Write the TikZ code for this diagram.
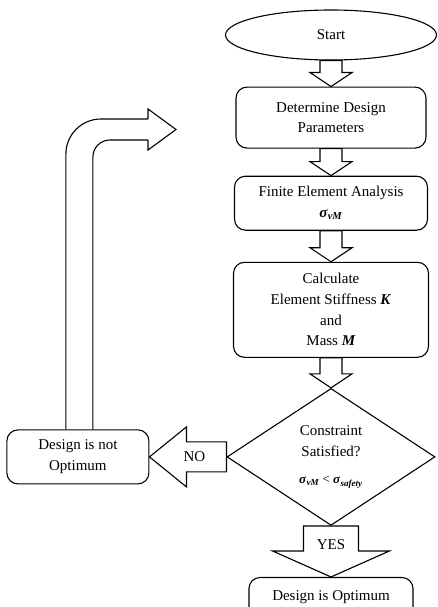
\documentclass[tikz,border=0pt]{standalone}
\usepackage{fontspec}
\setmainfont{Liberation Serif}
\usetikzlibrary{calc,positioning,shapes.geometric}

\newcommand{\sig}[1]{\textbf{\textit{σ}}\textsubscript{\textbf{\textit{#1}}}}

\begin{document}
\begin{tikzpicture}[x=1pt,y=1pt,line width=1.1pt,
    every node/.style={font=\fontsize{15}{20.7}\selectfont},
    termnode/.style={draw,ellipse,minimum width=211pt,minimum height=50pt,inner sep=0pt},
    procbox/.style={draw,rounded corners=11pt,align=center,inner sep=4pt},
    decision/.style={draw,diamond,aspect=1.52,minimum width=208pt,minimum height=137pt,inner sep=0pt,align=center},
    blockarrow/.style={draw,line join=miter}]

                \useasboundingbox (0,0) rectangle (437,-607);

                \node[termnode] (start) at (331,-35) {Start};

                \node[procbox,minimum width=190pt,minimum height=61pt] (det) [below=26pt of start] {Determine Design\\Parameters};

                \node[procbox,minimum width=193pt,minimum height=54pt] (fea) [below=27pt of det] {Finite Element Analysis\\\sig{vM}};

                \node[procbox,minimum width=195pt,minimum height=95pt] (stiff) [below=31pt of fea] {Calculate\\Element Stiffness \textbf{\textit{K}}\\and\\Mass \textbf{\textit{M}}};

                \node[decision] (cond) [below=30pt of stiff] {Constraint\\Satisfied?\\[7pt]{\fontsize{13}{15}\selectfont\sig{vM} < \sig{safety}}};

                \node[procbox,minimum width=142pt,minimum height=54pt] (nopt) [left=77pt of cond] {Design is not\\Optimum};

                \node[procbox,minimum width=164pt,minimum height=40pt] (opt) [below=51pt of cond] {Design is Optimum};

                \coordinate (loopend) at (176,-129.5);

                

                \foreach \from/\to in {start/det, det/fea, fea/stiff, stiff/cond}
                    {
                    \draw[blockarrow] let \p1=(\from.south), \p2=(\to.north) in
                        (\x1-11pt,\y1) -- (\x1-11pt,\y2+14pt) -- (\x1-21pt,\y2+14pt) -- (\x1,\y2)
                        -- (\x1+21pt,\y2+14pt) -- (\x1+11pt,\y2+14pt) -- (\x1+11pt,\y1) -- cycle;
                    }

                

                \draw[blockarrow] let \p1=(cond.south), \p2=(opt.north) in
                    (\x1-27.5pt,\y1) -- (\x1-27.5pt,\y2+26pt) -- (\x1-58.5pt,\y2+26pt) -- (\x1,\y2)
                    -- (\x1+58.5pt,\y2+26pt) -- (\x1+27.5pt,\y2+26pt) -- (\x1+27.5pt,\y1) -- cycle
                    (\x1,\y1-19pt) node (yeslabel) {YES};

                \draw[blockarrow] let \p1=(cond.west), \p2=(nopt.east) in
                    (\x1,\y1+15pt) -- (\x2+37pt,\y1+15pt) -- (\x2+37pt,\y1+30pt) -- (\x2,\y1)
                    -- (\x2+37pt,\y1-30pt) -- (\x2+37pt,\y1-15pt) -- (\x1,\y1-15pt) -- cycle
                    (\x1-32pt,\y1) node (nolabel) {NO};

                

                \draw[rounded corners=35pt] let \p1=(nopt.north), \p2=(loopend) in
                    (\x1-12pt,\y1) |- (\x2-28pt,\y2+10.5pt);

                \draw[rounded corners=17pt] let \p1=(nopt.north), \p2=(loopend) in
                    (\x1+15pt,\y1) |- (\x2-28pt,\y2-10.5pt);

                \draw[blockarrow] let \p2=(loopend) in
                    (\x2-28pt,\y2+10.5pt) -- (\x2-28pt,\y2+20.5pt) -- (loopend)
                    -- (\x2-28pt,\y2-20.5pt) -- (\x2-28pt,\y2-10.5pt);

            \end{tikzpicture}
\end{document}
